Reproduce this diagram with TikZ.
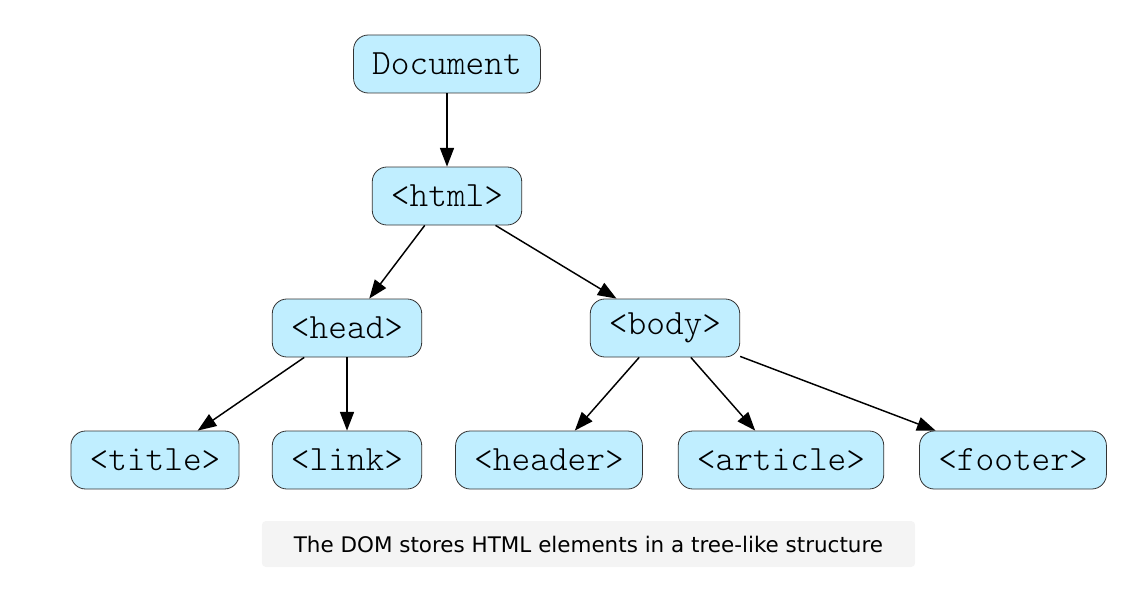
\documentclass[tikz,border=0pt]{standalone}
\usepackage{fontspec}
\setmonofont{Latin Modern Mono Light}
\newfontfamily\captionfont{DejaVu Sans}
\usepackage{xcolor}
\definecolor{nodeblue}{HTML}{C0EEFF}
\definecolor{captiongray}{HTML}{F4F4F4}
\usetikzlibrary{arrows.meta}
\tikzset{dom/.style={draw=black!80,line width=0.6pt,fill=nodeblue,rounded corners=11pt,
   minimum height=43.5pt,inner xsep=14pt,font=\ttfamily\fontsize{26.7}{30}\selectfont},
 link/.style={draw,line width=1.1pt,-{Triangle[length=14pt,width=10.5pt]}},
 caption/.style={fill=captiongray,rounded corners=3pt,minimum width=490pt,
   minimum height=34.5pt,font=\captionfont\fontsize{16.1}{18}\selectfont},
 }

\begin{document}
\begin{tikzpicture}[x=0.75pt,y=-0.75pt]
        \useasboundingbox (0,0) rectangle (1146,592);
        \node[dom] (document) at (447,64) {Document};
        \node[dom] (html) at (447,196) {<html>};
        \node[dom] (head) at (347,328) {<head>};
        \node[dom] (body) at (665,328) {<body>};
        \node[dom] (title) at (155,460) {<title>};
        \node[dom] (link) at (347,460) {<link>};
        \node[dom] (header) at (549,460) {<header>};
        \node[dom] (article) at (781,460) {<article>};
        \node[dom] (footer) at (1013,460) {<footer>};
        \node[caption] (note) at (588.5,544) {The DOM stores HTML elements in a tree-like structure};
        \draw[link] (document) -- (html);
        \draw[link] (html) -- (head);
        \draw[link] (html) -- (body);
        \draw[link] (head) -- (title);
        \draw[link] (head) -- (link);
        \draw[link] (body) -- (header);
        \draw[link] (body) -- (article);
        \draw[link] (body) -- (footer);
    \end{tikzpicture}
\end{document}
